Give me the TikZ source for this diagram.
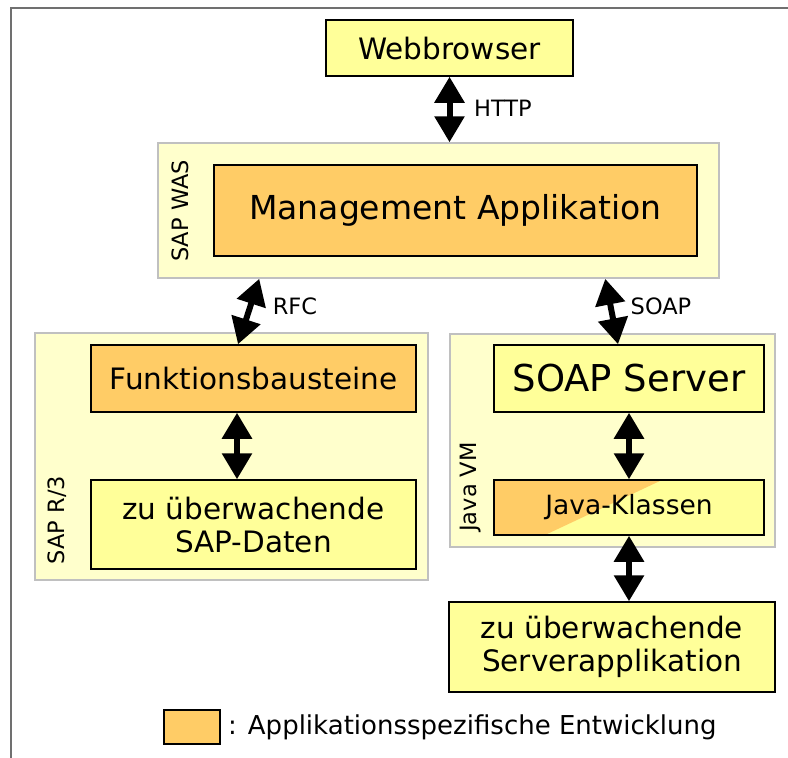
\documentclass[tikz,border=0pt]{standalone}
\usepackage{fontspec}
\setmainfont{DejaVu Sans}
\usetikzlibrary{arrows.meta,calc}
\definecolor{boxyellow}{HTML}{FFFF99}
\definecolor{boxorange}{HTML}{FFCC66}
\definecolor{contfill}{HTML}{FFFFCC}
\definecolor{contline}{HTML}{C0C0C0}
\definecolor{frameline}{HTML}{707070}
\tikzset{
  box/.style={draw=black, line width=1.5pt, inner sep=0pt, align=center},
  ybox/.style={box, fill=boxyellow},
  obox/.style={box, fill=boxorange},
  cont/.style={draw=contline, line width=1.5pt, fill=contfill, inner sep=0pt},
  dbl/.style={line width=6pt, {Triangle[width=29pt,length=26pt]}-{Triangle[width=29pt,length=26pt]}},
  lbl/.style={font=\fontsize{22.5}{25}\selectfont, inner sep=0pt},
  vlbl/.style={lbl, rotate=90},
  big/.style={font=\fontsize{29.5}{33}\selectfont},
}
\begin{document}
\begin{tikzpicture}[x=1pt,y=-1pt]
\useasboundingbox (0,0) rectangle (788,758);
% frame
\draw[frameline, line width=1.5pt] (788,8) -- (11,8) -- (11,758);

% containers
\node[cont, minimum width=561pt, minimum height=135pt] (was) at (438.5,210.5) {};
\node[cont, minimum width=393pt, minimum height=247pt] (r3) at (231.5,456.5) {};
\node[cont, minimum width=325pt, minimum height=213pt] (jvm) at (612.5,440.5) {};

\node[vlbl] (waslbl) at (180,211) {SAP WAS};
\node[vlbl] (r3lbl) at (57,520) {SAP R/3};
\node[vlbl] (jvmlbl) at (471,487) {Java VM};

% boxes
\node[ybox, minimum width=247pt, minimum height=56pt, font=\fontsize{29.5}{33}\selectfont] (web) at (449.5,48) {Webbrowser};
\node[obox, minimum width=483pt, minimum height=91pt, font=\fontsize{33}{38}\selectfont] (mgmt) at (455.5,210.5) {Management Applikation};
\node[obox, minimum width=325pt, minimum height=67pt, big] (funk) at (253.5,378.5) {Funktionsbausteine};
\node[ybox, minimum width=325pt, minimum height=89pt, big] (sapd) at (253.5,524.5) {zu überwachende\\SAP-Daten};
\node[ybox, minimum width=270pt, minimum height=67pt, font=\fontsize{37}{42}\selectfont] (soap) at (629,378.5) {SOAP Server};
\node[ybox, minimum width=270pt, minimum height=55pt, font=\fontsize{26.5}{30}\selectfont,
  path picture={\fill[boxorange] (path picture bounding box.north west) -- ([xshift=168pt]path picture bounding box.north west) -- ([xshift=51pt]path picture bounding box.south west) -- (path picture bounding box.south west) -- cycle;}] (java) at (629,507.5) {Java-Klassen};
\node[ybox, minimum width=326pt, minimum height=90pt, big] (app) at (612,647) {zu überwachende\\Serverapplikation};

% connectors
\draw[dbl] (web.south) -- (web.south |- was.north);
\draw[dbl] ([xshift=102pt]was.south west) -- ([xshift=-15.5pt]funk.north);
\draw[dbl] ([xshift=448pt]was.south west) -- ([xshift=-11pt]soap.north);
\draw[dbl] ([xshift=-16.5pt]funk.south) -- ([xshift=-16.5pt]sapd.north);
\draw[dbl] (soap.south) -- (java.north);
\draw[dbl] (java.south) -- (java.south |- app.north);

% connector labels
\node[lbl] (http) at (503,108) {HTTP};
\node[lbl] (rfc) at (295,306) {RFC};
\node[lbl] (soaplbl) at (661,306) {SOAP};

% legend
\node[obox, minimum width=56pt, minimum height=34pt] (legbox) at (192,727) {};
\node[anchor=west, inner sep=0pt, font=\fontsize{26}{30}\selectfont] (legtxt) at (228,727) {: Applikationsspezifische Entwicklung};
\end{tikzpicture}
\end{document}
